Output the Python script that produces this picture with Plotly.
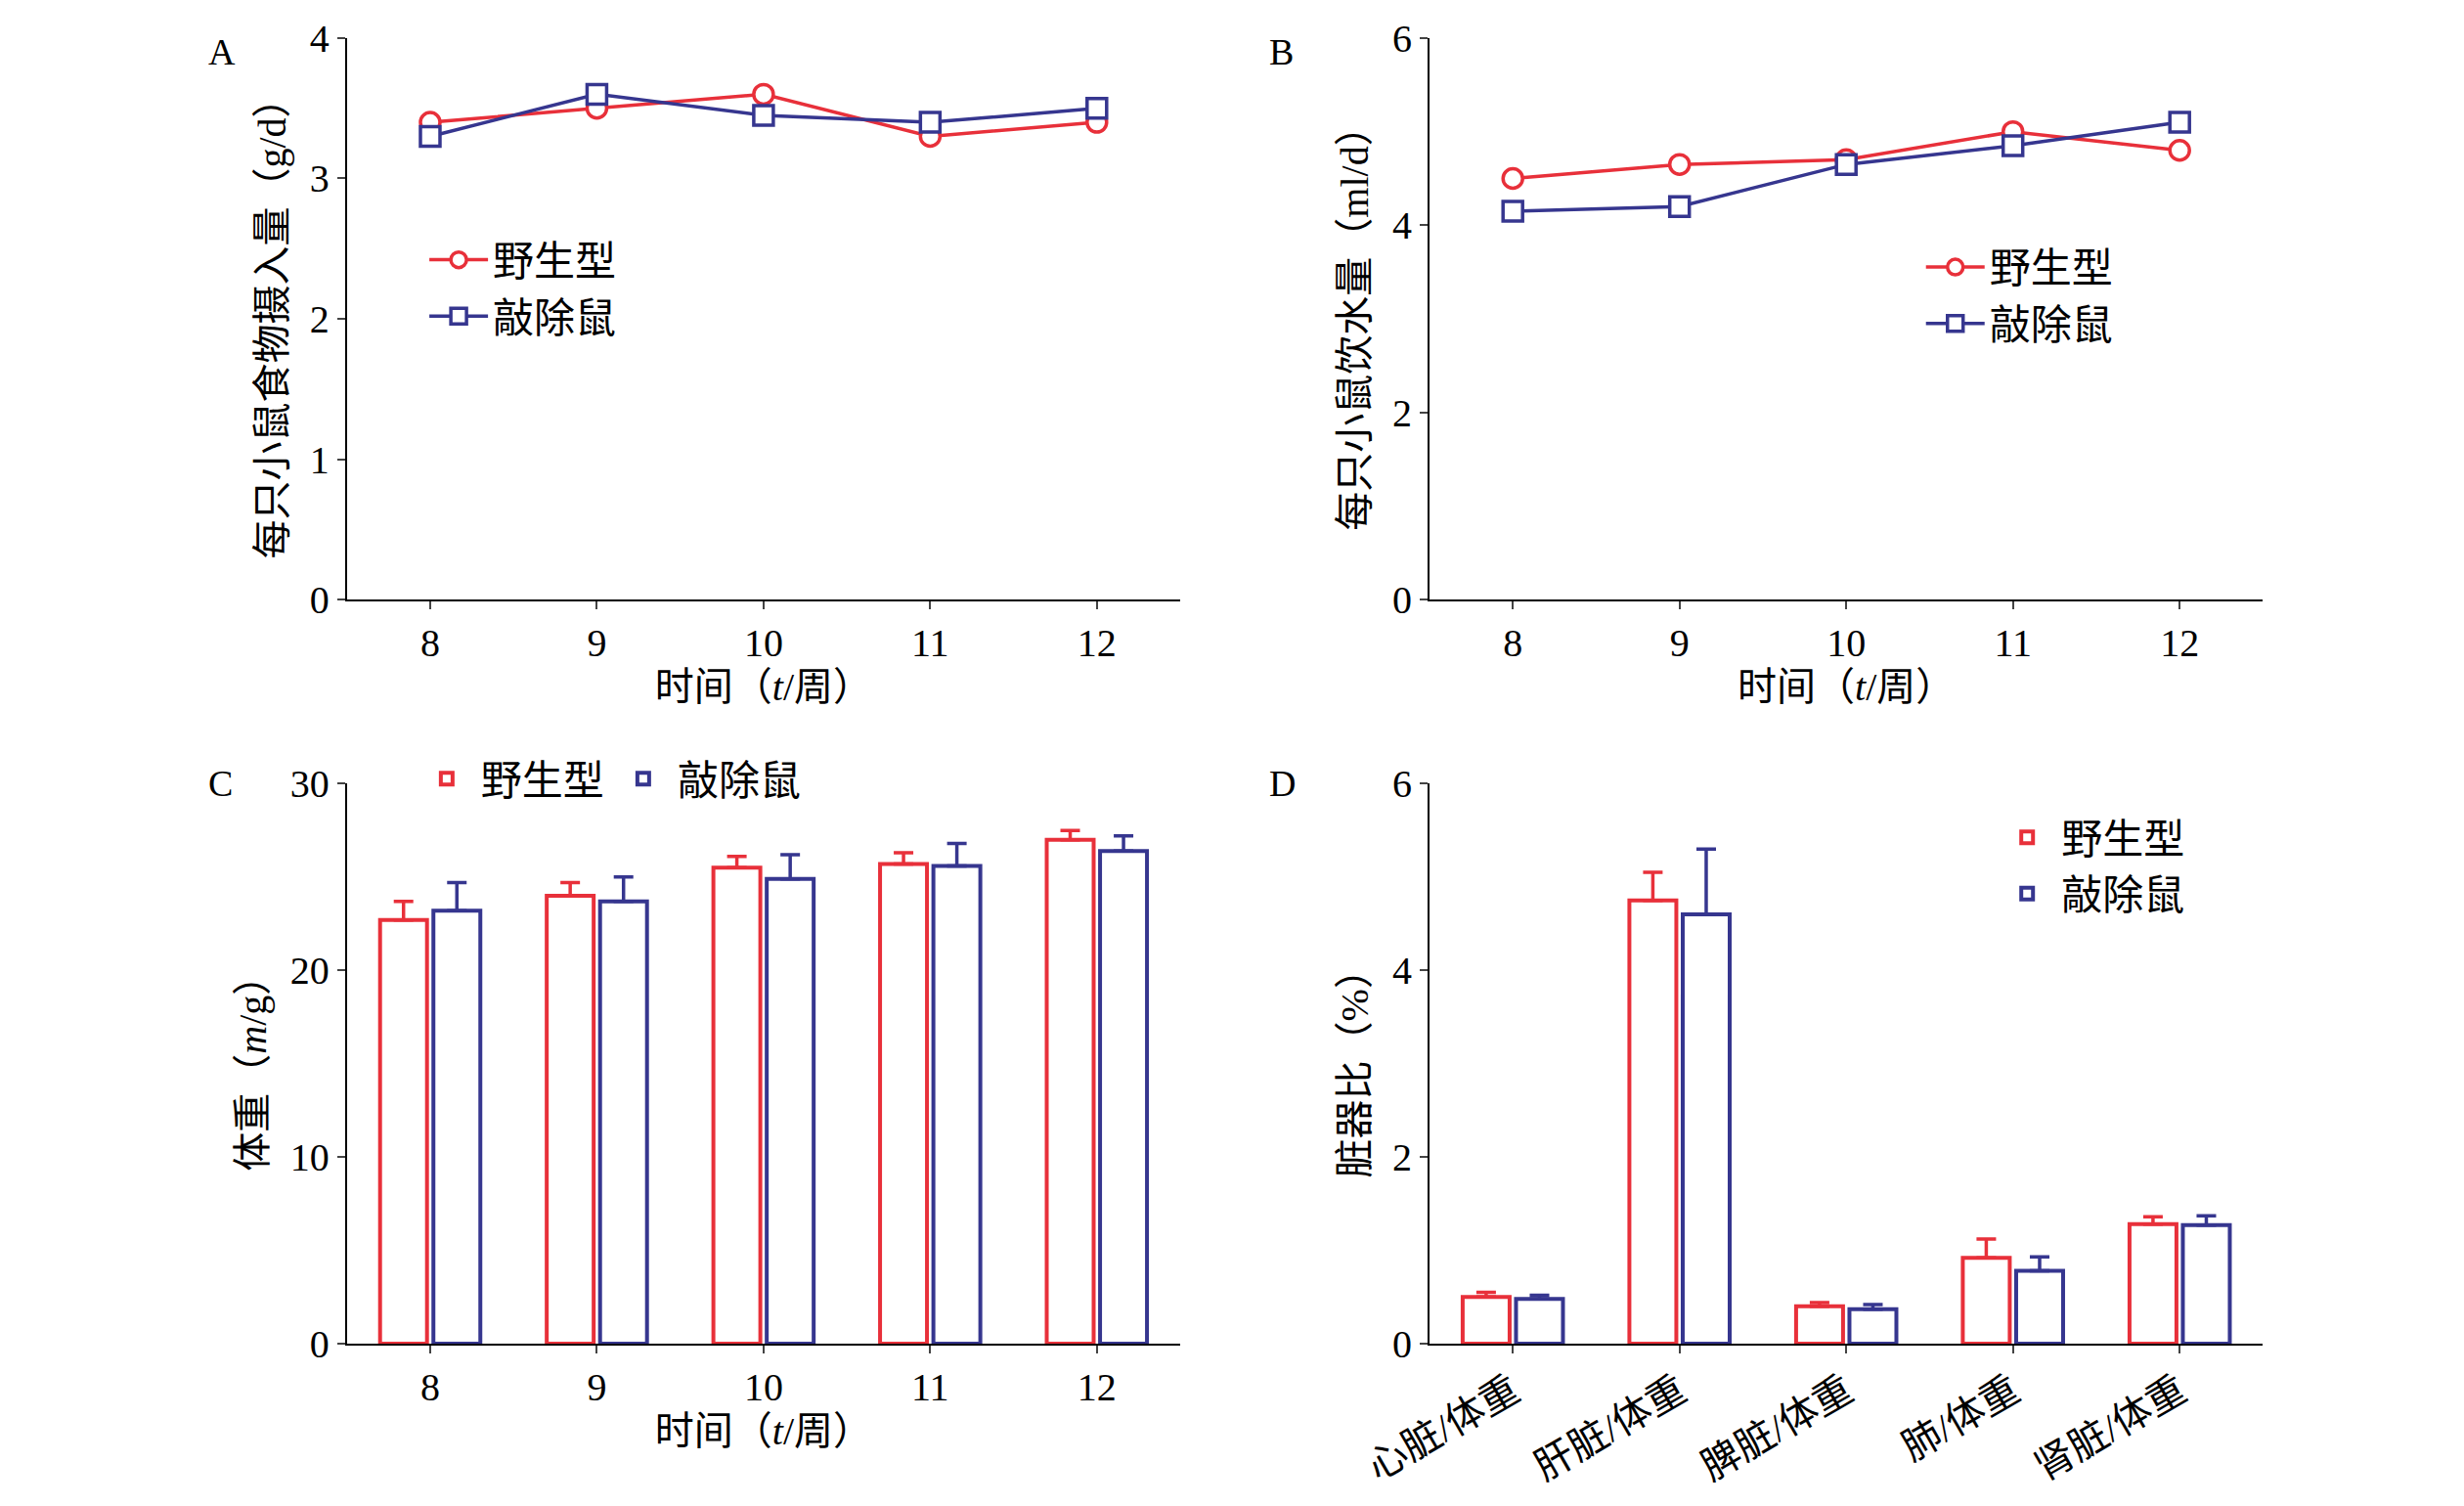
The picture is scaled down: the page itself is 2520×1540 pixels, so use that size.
import plotly.graph_objects as go

weeks = [8, 9, 10, 11, 12]
food_wt = [3.4, 3.5, 3.6, 3.3, 3.4]
food_ko = [3.3, 3.6, 3.45, 3.4, 3.5]
water_wt = [4.5, 4.65, 4.7, 5.0, 4.8]
water_ko = [4.15, 4.2, 4.65, 4.85, 5.1]
week_cats = ["8", "9", "10", "11", "12"]
bw_wt = [22.7, 24.0, 25.5, 25.7, 27.0]
bw_wt_err = [1.0, 0.7, 0.6, 0.6, 0.5]
bw_ko = [23.2, 23.7, 24.9, 25.6, 26.4]
bw_ko_err = [1.5, 1.3, 1.3, 1.2, 0.8]
organs = ["心脏/体重", "肝脏/体重", "脾脏/体重", "肺/体重", "肾脏/体重"]
org_wt = [0.5, 4.75, 0.4, 0.92, 1.28]
org_wt_err = [0.05, 0.3, 0.04, 0.2, 0.08]
org_ko = [0.48, 4.6, 0.37, 0.78, 1.27]
org_ko_err = [0.04, 0.7, 0.05, 0.15, 0.1]

RED = "#e8303a"
BLUE = "#36368f"
FONT = "Liberation Serif, Noto Sans CJK SC"

fig = go.Figure()

def line(x, y, name, color, symbol, xa, ya, legend):
    fig.add_trace(go.Scatter(x=x, y=y, name=name, mode="lines+markers", xaxis=xa, yaxis=ya,
                             legend=legend,
                             line=dict(color=color, width=3.5),
                             marker=dict(symbol=symbol, size=20, color="white",
                                         line=dict(color=color, width=3.5))))

line(weeks, food_wt, "野生型", RED, "circle", "x", "y", "legend")
line(weeks, food_ko, "敲除鼠", BLUE, "square", "x", "y", "legend")
line(weeks, water_wt, "野生型", RED, "circle", "x2", "y2", "legend2")
line(weeks, water_ko, "敲除鼠", BLUE, "square", "x2", "y2", "legend2")

def bars(x, y, err, name, color, xa, ya, legend):
    fig.add_trace(go.Bar(x=x, y=y, name=name, xaxis=xa, yaxis=ya, legend=legend,
                         marker=dict(color="white", line=dict(color=color, width=4)),
                         error_y=dict(type="data", array=err, arrayminus=[0]*len(err),
                                      symmetric=False, color=color, thickness=3.5, width=10)))

bars(week_cats, bw_wt, bw_wt_err, "野生型", RED, "x3", "y3", "legend3")
bars(week_cats, bw_ko, bw_ko_err, "敲除鼠", BLUE, "x3", "y3", "legend3")
bars(organs, org_wt, org_wt_err, "野生型", RED, "x4", "y4", "legend4")
bars(organs, org_ko, org_ko_err, "敲除鼠", BLUE, "x4", "y4", "legend4")

ax = dict(showline=True, linecolor="black", linewidth=2, ticks="outside", tickwidth=2,
          ticklen=8, showgrid=False, zeroline=False, tickfont=dict(size=40, family=FONT),
          title_font=dict(size=40, family=FONT))
top = [0.610, 0.994]
bot = [0.101, 0.484]
L = [0.1126, 0.4606]
R = [0.5647, 0.9128]
xt = "时间（<i>t</i>/周）"
fig.update_layout(
    width=2520, height=1540, plot_bgcolor="white", paper_bgcolor="white",
    font=dict(family=FONT, color="black"),
    margin=dict(l=0, r=0, t=0, b=0),
    barmode="group", bargap=0.36, bargroupgap=0.12,
    xaxis=dict(ax, domain=L, anchor="y", range=[7.5, 12.5], dtick=1, title=dict(text=xt, standoff=5)),
    yaxis=dict(ax, domain=top, anchor="x", range=[0, 4], dtick=1, title=dict(text="每只小鼠食物摄入量（g/d）", standoff=12)),
    xaxis2=dict(ax, domain=R, anchor="y2", range=[7.5, 12.5], dtick=1, title=dict(text=xt, standoff=5)),
    yaxis2=dict(ax, domain=top, anchor="x2", range=[0, 6], dtick=2, title=dict(text="每只小鼠饮水量（ml/d）", standoff=12)),
    xaxis3=dict(ax, domain=L, anchor="y3", title=dict(text=xt, standoff=5)),
    yaxis3=dict(ax, domain=bot, anchor="x3", range=[0, 30], dtick=10, title=dict(text="体重（<i>m</i>/g）", standoff=12)),
    xaxis4=dict(ax, domain=R, anchor="y4", tickangle=-30),
    yaxis4=dict(ax, domain=bot, anchor="x4", range=[0, 6], dtick=2, title=dict(text="脏器比（%）", standoff=12)),
)
lg = dict(font=dict(size=42, family=FONT), bgcolor="rgba(0,0,0,0)", xanchor="left", yanchor="top",
          itemwidth=60)
fig.update_layout(
    legend=dict(lg, x=0.145, y=0.865, tracegroupgap=30),
    legend2=dict(lg, x=0.77, y=0.86),
    legend3=dict(lg, x=0.14, y=0.51, orientation="h"),
    legend4=dict(lg, x=0.80, y=0.47),
)
for t, x, y in [("A", 0.054, 1.0), ("B", 0.497, 1.0), ("C", 0.054, 0.5), ("D", 0.497, 0.5)]:
    fig.add_annotation(text=t, x=x, y=y, xref="paper", yref="paper", showarrow=False,
                       xanchor="left", yanchor="top", font=dict(size=38, family=FONT))
fig.write_html("out.html")
